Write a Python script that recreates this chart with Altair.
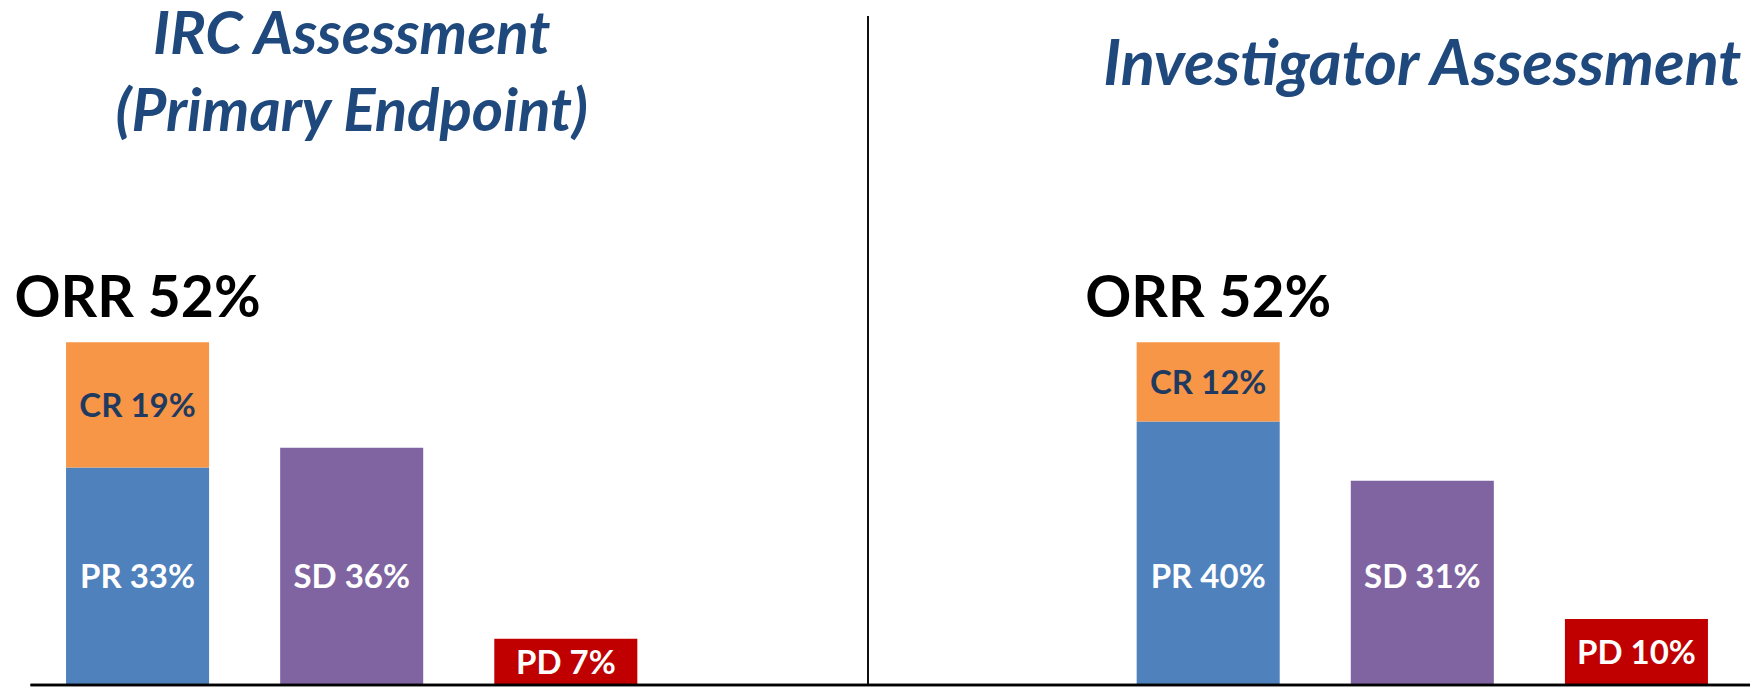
import altair as alt
import pandas as pd

# ---- data ----
slots = ["IRC_RESP", "IRC_SD", "IRC_PD", "GAP_A", "GAP_B", "INV_RESP", "INV_SD", "INV_PD"]

seg_slot = ["IRC_RESP", "IRC_RESP", "IRC_SD", "IRC_PD", "INV_RESP", "INV_RESP", "INV_SD", "INV_PD"]
seg_name = ["PR", "CR", "SD", "PD", "PR", "CR", "SD", "PD"]
seg_value = [33, 19, 36, 7, 40, 12, 31, 10]
seg_order = [0, 1, 0, 0, 0, 1, 0, 0]

orr_slot = ["IRC_RESP", "INV_RESP"]
orr_value = [52, 52]

title_irc_slot = ["IRC_SD"]
title_irc_text = [["IRC Assessment", "(Primary Endpoint)"]]
title_inv_slot = ["INV_SD"]
title_inv_text = ["Investigator Assessment"]

names = ["PR", "CR", "SD", "PD"]
name_colors = ["#4F81BD", "#F79646", "#8064A2", "#C00000"]

seg = pd.DataFrame({"slot": seg_slot, "name": seg_name, "value": seg_value, "ord": seg_order})
seg["label"] = seg["name"] + " " + seg["value"].astype(str) + "%"
orr = pd.DataFrame({"slot": orr_slot, "value": orr_value})
orr["label"] = "ORR " + orr["value"].astype(str) + "%"
t_irc = pd.DataFrame({"slot": title_irc_slot, "text": title_irc_text})
t_inv = pd.DataFrame({"slot": title_inv_slot, "text": title_inv_text})

FONT = "Lato"
xsc = alt.Scale(domain=slots, paddingInner=0.332, paddingOuter=0.166)
ysc = alt.Scale(domain=[0, 100], nice=False, zero=True)
X = alt.X("slot:N", scale=xsc, axis=None)

base = alt.Chart(seg).transform_stack(
    stack="value", groupby=["slot"], as_=["y0", "y1"], sort=[alt.SortField("ord", order="ascending")]
).transform_calculate(
    # PR and SD labels sit at a common height in the original; CR/PD are centred in their segment
    ly="(datum.name == 'PR' || datum.name == 'SD') ? 16.6 : (datum.y0 + datum.y1) / 2"
)

bars = base.mark_bar().encode(
    x=X,
    y=alt.Y("y0:Q", scale=ysc, axis=None),
    y2="y1:Q",
    color=alt.Color("name:N", scale=alt.Scale(domain=names, range=name_colors), legend=None),
)

labels = base.mark_text(font=FONT, fontWeight="bold", fontSize=33, baseline="middle", dy=2).encode(
    x=X,
    y=alt.Y("ly:Q", scale=ysc, axis=None),
    text="label:N",
    color=alt.condition("datum.name == 'CR'", alt.value("#1F3A60"), alt.value("#FFFFFF")),
)

orr_text = alt.Chart(orr).mark_text(
    font=FONT, fontWeight="bold", fontSize=57, baseline="alphabetic", dy=-25, color="#000000"
).encode(x=X, y=alt.Y("value:Q", scale=ysc, axis=None), text="label:N")

title_irc = alt.Chart(t_irc).mark_text(
    font=FONT, fontWeight="bold", fontStyle="italic", fontSize=60, color="#1F497D",
    baseline="alphabetic", lineHeight=77
).encode(x=X, y=alt.value(28), text="text")

title_inv = alt.Chart(t_inv).mark_text(
    font=FONT, fontWeight="bold", fontStyle="italic", fontSize=63, color="#1F497D",
    baseline="alphabetic"
).encode(x=X, y=alt.value(59), text="text:N")

divider = alt.Chart(orr).mark_rule(color="#000000", strokeWidth=1.5).encode(
    x=alt.value(837.5), y=alt.value(-10), y2=alt.value(659)
)
axis_line = alt.Chart(orr).mark_rule(color="#000000", strokeWidth=2.5).encode(
    x=alt.value(0), x2=alt.value(1719.5), y=alt.value(659)
)

chart = alt.layer(bars, labels, orr_text, title_irc, title_inv, divider, axis_line).properties(
    width=1713, height=659,
    padding={"left": 30.5, "top": 26, "right": 6.5, "bottom": 2},
    autosize=alt.AutoSizeParams(type="none"),
    background="#FFFFFF",
).configure_view(stroke=None)

chart.save("out.html", embed_options={"renderer": "svg", "actions": False})
